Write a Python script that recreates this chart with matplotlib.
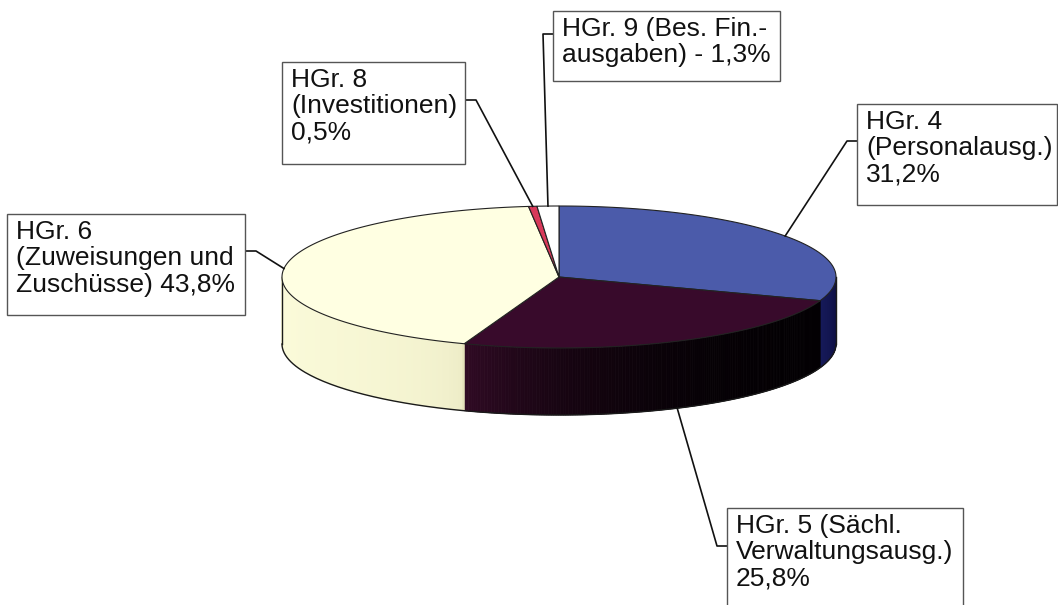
import numpy as np
import matplotlib.pyplot as plt
from matplotlib.patches import Polygon, Rectangle

# slice data (clockwise from 12 o'clock, as in the original Excel chart)
labels = [
    "HGr. 4\n(Personalausg.)\n31,2%",
    "HGr. 5 (Sächl.\nVerwaltungsausg.)\n25,8%",
    "HGr. 6\n(Zuweisungen und\nZuschüsse) 43,8%",
    "HGr. 8\n(Investitionen)\n0,5%",
    "HGr. 9 (Bes. Fin.-\nausgaben) - 1,3%",
]
values = [31.2, 25.8, 43.8, 0.5, 1.3]
top_colors = ["#4B5BAA", "#380A2B", "#FFFFE2", "#D8395A", "#FFFFFF"]
# side colours (left end, right end as seen by the viewer) and how fast they blend
side_colors = [
    ("#161A5A", "#0C0C3E"),
    ("#300A24", "#030003"),
    ("#FBFBDA", "#E4E2BA"),
    ("#C02040", "#C02040"),
    ("#EEEEEE", "#EEEEEE"),
]
side_gamma = [1.0, 3.0, 0.2, 1.0, 1.0]

# label boxes in pixel coords: x0, y0, x1, y1 and where the leader meets the box
boxes = [
    (857, 104, 1057, 205, "left", 141),
    (727, 508, 963, 620, "left", 546),
    (7, 214, 245, 315, "right", 251),
    (282, 62, 465, 164, "right", 100),
    (553, 11, 780, 81, "left", 34),
]

W, H = 1058, 605
fig = plt.figure(figsize=(W / 100, H / 100), dpi=100)
ax = fig.add_axes([0, 0, 1, 1])
ax.set_xlim(0, W)
ax.set_ylim(H, 0)
ax.axis("off")

cx, cy, a, b, depth = 559, 277, 277, 71, 67


def pt(theta, dz=0.0):
    t = np.radians(theta)
    return cx + a * np.sin(t), cy - b * np.cos(t) + dz


def mix(c1, c2, f):
    c1 = np.array(plt.matplotlib.colors.to_rgb(c1))
    c2 = np.array(plt.matplotlib.colors.to_rgb(c2))
    return tuple(c1 * (1 - f) + c2 * f)


frac = np.array(values) / np.sum(values)
bounds = np.concatenate([[0], np.cumsum(frac) * 360])

# side walls (front half only: 90..270 deg, angle grows right -> left)
for i in range(len(values)):
    t1, t2 = max(bounds[i], 90), min(bounds[i + 1], 270)
    if t2 <= t1:
        continue
    steps = np.linspace(t1, t2, int((t2 - t1) * 2) + 2)
    for k in range(len(steps) - 1):
        s0, s1 = steps[k], steps[k + 1]
        f = ((s0 - t1) / (t2 - t1)) ** side_gamma[i]  # 0 right end, 1 left end
        col = mix(side_colors[i][1], side_colors[i][0], f)
        p = [pt(s0), pt(s1), pt(s1, depth), pt(s0, depth)]
        ax.add_patch(Polygon(p, closed=True, facecolor=col, edgecolor=col,
                             linewidth=0.6, zorder=2))

# outline of the side
arc = np.linspace(90, 270, 200)
xs, ys = zip(*[pt(t, depth) for t in arc])
ax.plot(xs, ys, color="#1A1A1A", lw=1.0, zorder=3)
for t in (90, 270):
    x0, y0 = pt(t)
    ax.plot([x0, x0], [y0, y0 + depth], color="#1A1A1A", lw=1.0, zorder=3)

# top face
for i in range(len(values)):
    ts = np.linspace(bounds[i], bounds[i + 1], max(3, int(bounds[i + 1] - bounds[i]) * 2))
    p = [(cx, cy)] + [pt(t) for t in ts]
    ax.add_patch(Polygon(p, closed=True, facecolor=top_colors[i],
                         edgecolor="#222222", linewidth=0.8, zorder=4))

# labels with leader lines
for i, (x0, y0, x1, y1, side, ly) in enumerate(boxes):
    ax.add_patch(Rectangle((x0, y0), x1 - x0, y1 - y0, facecolor="white",
                           edgecolor="#555555", linewidth=1.0, zorder=5))
    ax.text(x0 + 9, y0 + 6, labels[i], ha="left", va="top", fontsize=19,
            family="Liberation Sans", linespacing=1.13, color="#111111", zorder=6)
    mid = (bounds[i] + bounds[i + 1]) / 2
    ex, ey = pt(mid, depth if 90 < mid < 270 else 0)
    bx = x0 if side == "left" else x1
    kx = bx - 10 if side == "left" else bx + 11
    ax.plot([bx, kx, ex], [ly, ly, ey], color="#111111", lw=1.2, zorder=4.5)

fig.savefig("out.png", dpi=100)
